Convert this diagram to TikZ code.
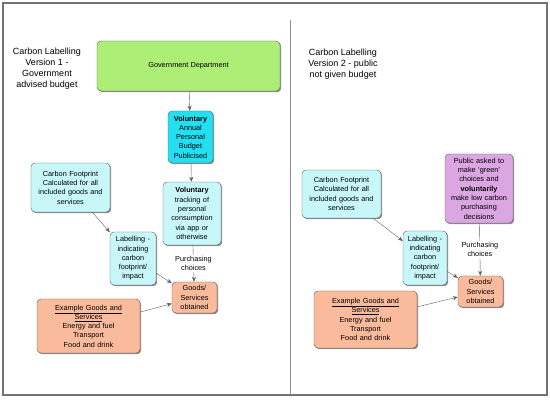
\documentclass[tikz,border=0pt]{standalone}
\usepackage{fontspec}
\setmainfont{Liberation Sans}
\usetikzlibrary{arrows.meta,shadows}
\definecolor{govgreen}{RGB}{172,238,118}
\definecolor{budgetcyan}{RGB}{34,224,242}
\definecolor{palecyan}{RGB}{200,247,250}
\definecolor{salmon}{RGB}{250,186,156}
\definecolor{lilac}{RGB}{220,166,226}
\definecolor{edgegray}{RGB}{95,95,95}

\begin{document}
\begin{tikzpicture}[x=1pt,y=-1pt,>={Stealth[length=5pt,width=4pt]},
  box/.style={draw=edgegray,rounded corners=4pt,align=center,inner sep=1pt,
    font=\fontsize{7.3}{9.3}\selectfont,
    drop shadow={shadow xshift=1.2pt,shadow yshift=-1.2pt,fill=black!55,opacity=0.8}},
  title/.style={align=center,font=\fontsize{9}{11}\selectfont},
  link/.style={->,draw=edgegray,thin}]
\useasboundingbox (0,0) rectangle (550,401);
\draw[black!55,line width=1.2pt] (3,3) rectangle (547,395);
\draw[black!45,line width=0.8pt] (290,20) -- (290,395);
% version 1
\node[title] (title1) at (47,69) {Carbon Labelling\\Version 1 -\\Government\\advised budget};
\node[box,fill=govgreen,minimum width=183pt,minimum height=50pt] (gov) at (188.5,66) {Government Department};
\node[box,fill=budgetcyan,minimum width=45pt,minimum height=52pt,text width=43pt] (budget) at (190.5,137) {\textbf{Voluntary}\\Annual\\Personal\\Budget\\Publicised};
\node[box,fill=palecyan,minimum width=58pt,minimum height=63pt,text width=56pt] (track) at (192,213.5) {\textbf{Voluntary}\\tracking of\\personal\\consumption\\via app or\\otherwise};
\node[box,fill=salmon,minimum width=45pt,minimum height=31pt,text width=43pt] (goods) at (194.5,297.5) {Goods/\\Services\\obtained};
\node[box,fill=palecyan,minimum width=79pt,minimum height=49pt,text width=77pt] (foot) at (70.5,187.5) {Carbon Footprint\\Calculated for all\\included goods and\\services};
\node[box,fill=palecyan,minimum width=46pt,minimum height=53pt,text width=44pt] (label) at (133,258.5) {Labelling -\\indicating\\carbon\\footprint/\\impact};
\node[box,fill=salmon,minimum width=103pt,minimum height=54pt,text width=101pt] (example) at (88.5,326) {\underline{Example Goods and}\\\underline{Services}\\Energy and fuel\\Transport\\Food and drink};
\draw[link] (gov) -- (budget);
\draw[link] (budget) -- (track);
\draw[link] (track) -- (goods) node[midway,fill=white,inner sep=1pt,align=center,font=\fontsize{7.3}{9.3}\selectfont] {Purchasing\\choices};
\draw[link] (foot) -- (label);
\draw[link] (label) -- (goods);
\draw[link] (example) -- (goods);
% version 2
\node[title] (title2) at (343,64) {Carbon Labelling\\Version 2 - public\\not given budget};
\node[box,fill=lilac,minimum width=68pt,minimum height=69pt,text width=66pt] (public) at (479,188.5) {Public asked to\\make `green'\\choices and\\\textbf{voluntarily}\\make low carbon\\purchasing\\decisions};
\node[box,fill=palecyan,minimum width=79pt,minimum height=48pt,text width=77pt] (foot2) at (341.5,194) {Carbon Footprint\\Calculated for all\\included goods and\\services};
\node[box,fill=palecyan,minimum width=44pt,minimum height=54pt,text width=42pt] (label2) at (425,258) {Labelling -\\indicating\\carbon\\footprint/\\impact};
\node[box,fill=salmon,minimum width=45pt,minimum height=31pt,text width=43pt] (goods2) at (480.5,291.5) {Goods/\\Services\\obtained};
\node[box,fill=salmon,minimum width=103pt,minimum height=57pt,text width=101pt] (example2) at (365.5,319.5) {\underline{Example Goods and}\\\underline{Services}\\Energy and fuel\\Transport\\Food and drink};
\draw[link] (public) -- (goods2) node[midway,fill=white,inner sep=1pt,align=center,font=\fontsize{7.3}{9.3}\selectfont] {Purchasing\\choices};
\draw[link] (foot2) -- (label2);
\draw[link] (label2) -- (goods2);
\draw[link] (example2) -- (goods2);
\end{tikzpicture}
\end{document}
